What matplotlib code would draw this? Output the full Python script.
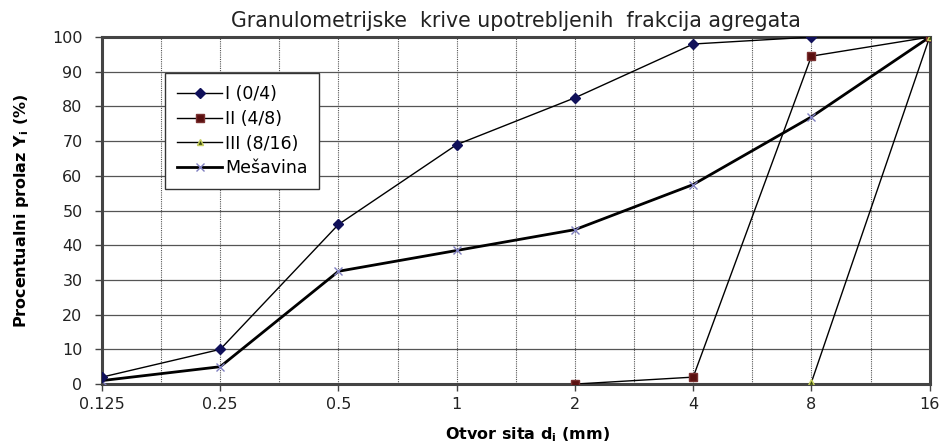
import matplotlib
matplotlib.use("Agg")
import matplotlib.pyplot as plt
from matplotlib.ticker import FixedLocator, NullFormatter

plt.rcParams['font.family'] = ['DejaVu Sans']

sieves = [0.125, 0.25, 0.5, 1, 2, 4, 8, 16]
tick_labels = ["0.125", "0.25", "0.5", "1", "2", "4", "8", "16"]

frac1_x = [0.125, 0.25, 0.5, 1, 2, 4, 8, 16]
frac1_y = [2, 10, 46, 69, 82.5, 98, 100, 100]
frac2_x = [2, 4, 8, 16]
frac2_y = [0, 2, 94.5, 100]
frac3_x = [8, 16]
frac3_y = [0.5, 100]
mix_x = [0.125, 0.25, 0.5, 1, 2, 4, 8, 16]
mix_y = [1, 5, 32.5, 38.5, 44.5, 57.5, 77, 100]

fig = plt.figure(figsize=(9.4, 4.44), dpi=100)
ax = fig.add_axes([0.1085, 0.135, 0.8805, 0.7815])

ax.set_xscale('log', base=2)
ax.set_xlim(0.125, 16)
ax.set_ylim(0, 100)

ax.plot(frac1_x, frac1_y, color='black', lw=1.0, marker='D', ms=5,
        mfc='#10105a', mec='#10105a', label='I (0/4)', zorder=4)
ax.plot(frac2_x, frac2_y, color='black', lw=1.0, marker='s', ms=6,
        mfc='#5a1010', mec='#7a3030', label='II (4/8)', zorder=4)
ax.plot(frac3_x, frac3_y, color='black', lw=1.0, marker='^', ms=5,
        mfc='#3a4a10', mec='#c8d060', label='III (8/16)', zorder=4)
ax.plot(mix_x, mix_y, color='black', lw=2.0, marker='x', ms=6, mew=1.0,
        mec='#8080c0', label='Mešavina', zorder=3)

ax.xaxis.set_major_locator(FixedLocator(sieves))
ax.set_xticklabels(tick_labels)
minor = [s * 2 ** 0.5 for s in sieves[:-1]]
ax.xaxis.set_minor_locator(FixedLocator(minor))
ax.xaxis.set_minor_formatter(NullFormatter())
ax.set_yticks(range(0, 101, 10))

ax.grid(True, axis='y', which='major', color='#555555', lw=0.9, ls='-')
ax.grid(True, axis='x', which='both', color='#555555', lw=0.8, ls=(0, (1, 1)))
ax.set_axisbelow(True)

for s in ax.spines.values():
    s.set_color('#444444')
    s.set_linewidth(2.2)

ax.tick_params(axis='both', which='major', direction='out', length=5,
               width=1, color='#444444', labelsize=11.5, labelcolor='#222222')
ax.tick_params(axis='x', which='minor', length=0)
ax.tick_params(axis='x', pad=4)
ax.tick_params(axis='y', pad=9)

ax.set_title('Granulometrijske  krive upotrebljenih  frakcija agregata',
             fontsize=14.8, color='#222222', pad=7)
ax.set_xlabel('Otvor sita d$_\\mathregular{i}$ (mm)', fontsize=11.5,
              fontweight='bold')
ax.xaxis.set_label_coords(0.514, -0.118)
ax.set_ylabel('Procentualni prolaz Y$_\\mathregular{i}$ (%)', fontsize=11.5,
              fontweight='bold', labelpad=15)

leg = ax.legend(loc='upper left', bbox_to_anchor=(0.076, 0.896),
                fontsize=12.5, frameon=True, fancybox=False, handlelength=2.6,
                handletextpad=0.15, labelspacing=0.38, borderpad=0.7,
                borderaxespad=0)
leg.get_frame().set_edgecolor('#333333')
leg.get_frame().set_linewidth(1.0)
leg.get_frame().set_alpha(1)

fig.savefig('out.png', dpi=100)
